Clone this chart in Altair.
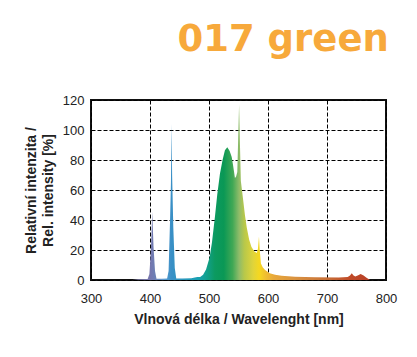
import altair as alt
import pandas as pd

wavelength = [370, 380, 396, 399, 401.5, 403.8, 406, 408.5, 411, 420, 429, 431.5, 434, 435.5,
              436.5, 437.5, 439.5, 442, 444.5, 455, 470, 480, 485, 490, 495, 501, 505, 510,
              514, 518.6, 523, 527, 531, 535, 538.5, 541, 544, 546, 548, 549.5, 551, 552.5,
              554, 558, 561, 564, 568, 572, 577, 581, 583, 584.7, 586, 588, 591, 595, 603,
              612, 623, 646, 680, 720, 735, 739, 742, 745, 748, 752, 757, 762, 767, 773]
intensity = [0, 0.5, 0.7, 4, 20, 45.5, 22, 6, 0.8, 0.8, 1, 6, 40, 65,
             104, 70, 35, 8, 1, 1, 1.2, 2, 2, 3.5, 7, 15, 25, 42,
             57, 71, 80, 86.5, 88.5, 86, 82, 76, 68, 69, 72, 95, 117, 90,
             66, 53, 43, 35, 27, 22, 19, 18, 21, 29, 20, 11, 8.5, 6.7, 4.5,
             3.5, 2.9, 2.2, 1.8, 1.6, 2, 3, 4.5, 3, 2.3, 3, 4, 3, 1.5, 0]

# spectral colour stops (wavelength nm -> colour)
stop_wl = [370, 400, 412, 425, 436, 450, 480, 495, 510, 525, 540, 551, 560, 575, 585, 595, 610, 650, 700, 740, 773]
stop_col = ["#8a88b0", "#7676ae", "#6a84b8", "#5a9cd0", "#3a8fc6", "#2f95c0", "#1aa0b4", "#12a090",
            "#0c9a60", "#0a9855", "#40a855", "#8fbc6a", "#b8c84a", "#e0d43a", "#f5d820", "#f0c030",
            "#e8a83a", "#d89040", "#c87038", "#c04a28", "#b84028"]

df = pd.DataFrame({"wl": wavelength, "val": intensity})
wmin, wmax = min(wavelength), max(wavelength)
stops = [alt.GradientStop(offset=(w - wmin) / (wmax - wmin), color=c) for w, c in zip(stop_wl, stop_col)]

chart = alt.Chart(df).mark_area(
    line=False,
    color=alt.Gradient(gradient="linear", stops=stops, x1=0, x2=1, y1=0, y2=0),
).encode(
    x=alt.X("wl:Q", scale=alt.Scale(domain=[300, 800], nice=False, zero=False),
            axis=alt.Axis(values=[300, 400, 500, 600, 700, 800], labelFlush=False,
                          title="Vlnová délka / Wavelenght [nm]")),
    y=alt.Y("val:Q", scale=alt.Scale(domain=[0, 120], nice=False),
            axis=alt.Axis(values=[0, 20, 40, 60, 80, 100, 120], labelFlush=False,
                          title=["Relativní intenzita /", "Rel. intensity [%]"])),
).properties(
    width=295, height=180,
    autosize=alt.AutoSizeParams(type="none"),
    padding={"left": 83, "top": 92, "right": 23, "bottom": 69},
    title=alt.TitleParams("017 green", anchor="end", font="DejaVu Sans", fontSize=37,
                          fontWeight="bold", color="#f7a93b", offset=35, dx=-8),
).configure_view(
    stroke="#111", strokeWidth=2
).configure_axis(
    zindex=1,
    grid=True, gridColor="#000", gridDash=[4, 2], gridWidth=1, gridOpacity=1,
    ticks=False, domain=False,
    labelFont="Liberation Sans", labelFontSize=13, labelColor="#222",
    titleFont="Liberation Sans", titleFontSize=14, titleFontWeight="bold", titleColor="#222",
    titleLineHeight=17,
).configure_axisX(
    labelPadding=12, titlePadding=7
).configure_axisY(
    labelPadding=7, titlePadding=7
)

chart.save("out.html", embed_options={"renderer": "svg", "actions": False})
